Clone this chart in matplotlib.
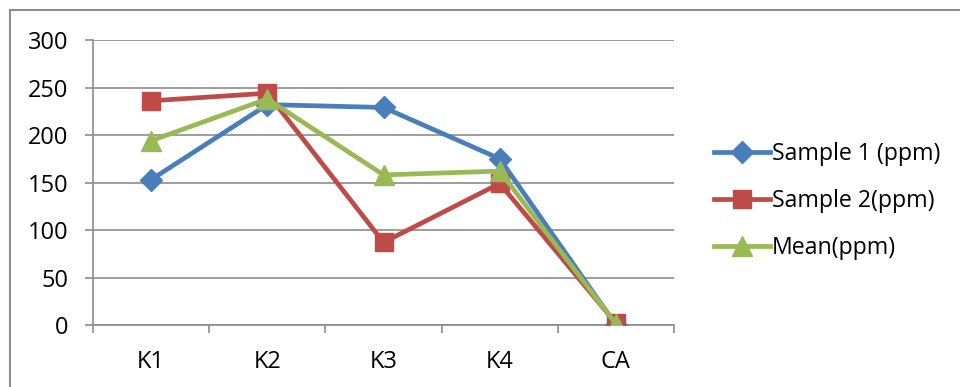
import numpy as np
import matplotlib.pyplot as plt
from matplotlib.patches import Rectangle

plt.rcParams['font.family'] = ['Open Sans', 'DejaVu Sans']

# concentrations per sample site
categories = ['K1', 'K2', 'K3', 'K4', 'CA']
sample1 = [153, 232, 229, 175, 0]
sample2 = [236, 244, 87, 149, 2]
mean = [194, 238, 158, 162, 1]
yticks = [0, 50, 100, 150, 200, 250, 300]

grid_col = '#8c8c8c'

fig = plt.figure(figsize=(9.6, 3.87), dpi=100)
ax = fig.add_axes([0.0969, 0.1602, 0.6052, 0.7364])

x = np.arange(len(categories))
ax.plot(x, sample1, color='#4A7EBB', lw=3.4, marker='D', ms=11, label='Sample 1 (ppm)', zorder=3)
ax.plot(x, sample2, color='#BE4B48', lw=3.4, marker='s', ms=13, label='Sample 2(ppm)', zorder=3)
ax.plot(x, mean, color='#98B954', lw=3.4, marker='^', ms=14, label='Mean(ppm)', zorder=4)

ax.set_xlim(-0.5, len(categories) - 0.5)
ax.set_ylim(0, 300)
ax.set_yticks(yticks)
ax.set_xticks(x)
ax.set_xticklabels(categories)
ax.set_xticks(np.arange(-0.5, len(categories)), minor=True)
ax.tick_params(axis='x', which='major', length=0, pad=18, labelsize=17)
ax.tick_params(axis='x', which='minor', length=6, width=1.2, color=grid_col, direction='out')
ax.tick_params(axis='y', length=6, width=1.2, color=grid_col, pad=12, labelsize=17)
ax.yaxis.grid(True, color=grid_col, lw=1.2)
ax.set_axisbelow(True)

for side in ['top', 'right']:
    ax.spines[side].set_visible(False)
for side in ['left', 'bottom']:
    ax.spines[side].set_color(grid_col)
    ax.spines[side].set_linewidth(1.2)

fig.legend(loc='center left', bbox_to_anchor=(0.744, 0.48), frameon=False,
           fontsize=16.7, handlelength=2.4, handletextpad=0.1, labelspacing=1.0,
           borderpad=0, borderaxespad=0)

# chart border
fig.patches.append(Rectangle((0.0104, -0.1), 1.1, 1.074, transform=fig.transFigure,
                             fill=False, edgecolor=grid_col, lw=1.5))

fig.savefig('out.png', dpi=100)
